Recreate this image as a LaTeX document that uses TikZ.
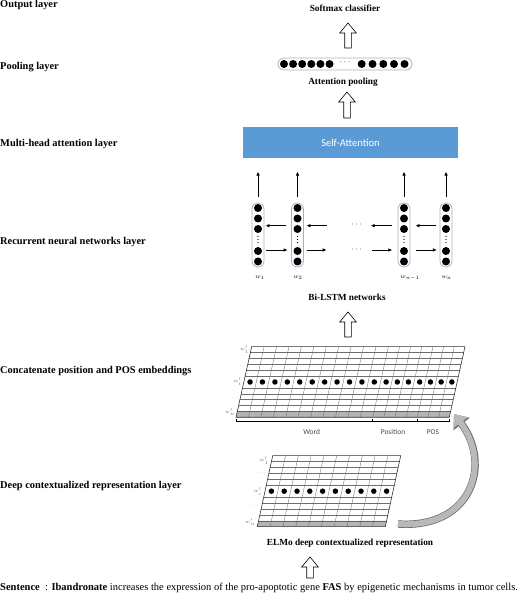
\documentclass[tikz,border=0pt]{standalone}
\usepackage{fontspec}
\setmainfont{Liberation Serif}
\newfontfamily\calfont{Carlito}
\usetikzlibrary{calc,arrows.meta,positioning}

\definecolor{attblue}{HTML}{5B9BD5}
\definecolor{capline}{HTML}{9FB3C8}
\definecolor{gridline}{HTML}{6E6E6E}
\definecolor{bandgray}{HTML}{B4B4B4}

\tikzset{
  layer/.style={anchor=west, inner sep=0pt, font=\fontsize{10.4}{12}\selectfont\bfseries},
  caption/.style={inner sep=0pt, font=\fontsize{9.3}{11}\selectfont\bfseries},
  ball/.style={circle, fill=black, inner sep=0pt, minimum size=#1},
  ball/.default=8pt,
  capsule/.style={draw=capline, line width=0.8pt, rounded corners=6pt, minimum width=12pt, minimum height=64pt, inner sep=0pt},
  holarrow/.style={draw=black, fill=white, line width=0.6pt},
  lstm/.style={line width=0.8pt, -{Latex[length=4pt,width=3.6pt]}},
  wlabel/.style={inner sep=0pt, font=\fontsize{6}{7}\selectfont},
  rowlabel/.style={anchor=east, inner sep=0pt, text=gridline, font=\fontsize{4.5}{5}\selectfont},
  seglabel/.style={inner sep=0pt, text=black!70, font=\calfont\fontsize{7.5}{8}\selectfont},
  gridrule/.style={gridline, line width=0.35pt},
}

% hollow up arrow: #1 foot, #2 tip
\newcommand\holarrow[2]{%
  \draw[holarrow] ($(#1)+(-3.3,0)$) -- ($(#2)+(-3.3,-10)$) -- ($(#2)+(-8.3,-10)$) -- (#2)
    -- ($(#2)+(8.3,-10)$) -- ($(#2)+(3.3,-10)$) -- ($(#1)+(3.3,0)$) -- cycle;}

\begin{document}
\begin{tikzpicture}[x=1pt,y=1pt]
\useasboundingbox (0,0) rectangle (520,599);

% layer names
\node[layer] (l-out) at (0,593.5) {Output layer};
\node[layer] (l-pool) at (0,532) {Pooling layer};
\node[layer] (l-att) at (0,455) {Multi-head attention layer};
\node[layer] (l-rnn) at (0,357) {Recurrent neural networks layer};
\node[layer] (l-cat) at (0,228) {Concatenate position and POS embeddings};
\node[layer] (l-elmo) at (0,113) {Deep contextualized representation layer};

% output, pooling, attention
\node[caption] (soft) at (345,591) {Softmax classifier};
\coordinate (up1a) at (348,551);
\coordinate (up1b) at (348,576);
\holarrow{up1a}{up1b}

\node[draw=capline, line width=0.8pt, rounded corners=6pt, minimum width=134pt, minimum height=12pt] (pool) at (345,535) {};
\foreach \x in {284,293.1,302.2,311.3,320.4,329.5,361.7,372.5,383.3,394,404.5}
  \node[ball] at (\x,535) {};
\node[inner sep=0pt, font=\fontsize{9}{9}\selectfont] at (345,536.5) {$\cdots$};
\node[caption] (attp) at (343,517) {Attention pooling};
\coordinate (up2a) at (347,481);
\coordinate (up2b) at (347,507);
\holarrow{up2a}{up2b}

\node[fill=attblue, minimum width=215pt, minimum height=31pt, inner sep=0pt, text=white,
  font=\calfont\fontsize{10.5}{12}\selectfont] (satt) at (350.5,456.5) {Self-Attention};

% Bi-LSTM columns
\foreach \n/\x in {1/258,2/297.5,3/404,4/446} {
  \node[capsule] (c\n) at (\x,364) {};
  \foreach \y in {391,380.5,370,348,337.5} \node[ball] at (\x,\y) {};
  \foreach \y in {356.5,359.5,362.5} \fill (\x,\y) circle (0.6);
  \draw[lstm] ($(c\n.north)+(0,6)$) coordinate (o\n) -- ++(0,25);
}
\draw[lstm] ([xshift=-5pt,yshift=9.3pt]c2.west) -- ([xshift=1pt,yshift=9.3pt]c1.east);
\draw[lstm] ([xshift=2pt,yshift=-15pt]c1.east) -- ([xshift=-3.5pt,yshift=-15pt]c2.west);
\coordinate (r2u) at (326.7,373.3);
\coordinate (r2d) at (326.7,349);
\draw[lstm] (r2u) -- ([xshift=2.5pt,yshift=9.3pt]c2.east);
\draw[lstm] ([xshift=3pt,yshift=-15pt]c2.east) -- (r2d);
\node[inner sep=0pt, font=\fontsize{8}{8}\selectfont] at (356.7,374) {$\cdots$};
\node[inner sep=0pt, font=\fontsize{8}{8}\selectfont] at (356.7,349.7) {$\cdots$};
\coordinate (l3u) at (370.7,373.3);
\coordinate (l3d) at (371.7,349);
\draw[lstm] ([xshift=-6pt,yshift=9.3pt]c3.west) -- (l3u);
\draw[lstm] (l3d) -- ([xshift=-5.3pt,yshift=-15pt]c3.west);
\draw[lstm] ([xshift=-3.3pt,yshift=9.3pt]c4.west) -- ([xshift=5pt,yshift=9.3pt]c3.east);
\draw[lstm] ([xshift=6pt,yshift=-15pt]c3.east) -- ([xshift=-2.7pt,yshift=-15pt]c4.west);

\node[wlabel] (w1) at (260,321) {$w_1$};
\node[wlabel] (w2) at (298,321) {$w_2$};
\node[wlabel] (wn1) at (410,321) {$w_{n-1}$};
\node[wlabel] (wn) at (446.7,321) {$w_n$};
\node[caption] (bil) at (347,302) {Bi-LSTM networks};
\coordinate (up3a) at (348,262);
\coordinate (up3b) at (348,287);
\holarrow{up3a}{up3b}

% concatenated embeddings
\begin{scope}[shift={(236,181.7)}, xslant=0.222]
  \fill[bandgray] (0,0) rectangle (213.3,5.89);
  \foreach \k in {2,...,11} {\ifnum\k=6\else\draw[gridrule] (0,\k*5.89) -- (213.3,\k*5.89);\fi}
  \foreach \u in {12.43,24.85,37.3,49.7,62.1,74.6,87,99.4,111.9,124.3,136.7,147.9,159,170.2,181.3,192,202.6}
    \draw[gridrule] (\u,0) -- (\u,70.7);
  \draw[attblue!70!black, line width=0.45pt] (0,5.89) -- (213.3,5.89);
  \draw[line width=0.6pt, black!80] (0,0) rectangle (213.3,70.7);
  \foreach \u in {6.2,18.6,31.1,43.5,55.9,68.4,80.8,93.2,105.7,118.1,130.5,142.3,153.5,164.6,175.8,186.6,197.3,208}
    \node[ball=5.5pt] at (\u,35.3) {};
  \node[rowlabel] at (-2,68) {$w'_1$};
  \node[rowlabel] at (-2,51.3) {$\cdots$};
  \node[rowlabel] at (-2,35.3) {$w'_i$};
  \node[rowlabel] at (-2,19.3) {$\cdots$};
  \node[rowlabel] at (-2,5) {$w'_n$};
  \coordinate (cat-br) at (213.3,0);
\end{scope}
\draw[line width=0.6pt] (236,180) -- (236,177.3) -- (449.3,177.3) -- (449.3,180);
\draw[line width=0.6pt] (372.7,177.3) -- (372.7,180.3);
\draw[line width=0.6pt] (417.3,177.3) -- (417.3,180.3);
\node[seglabel] (sw) at (311.7,167.3) {Word};
\node[seglabel] (sp) at (393,167.3) {Position};
\node[seglabel] (spos) at (433,167.3) {POS};

% ELMo representation
\begin{scope}[shift={(257.3,72.3)}, xslant=0.217]
  \fill[bandgray] (0,0) rectangle (128,5.92);
  \foreach \k in {2,...,11} {\ifnum\k=6\else\draw[gridrule] (0,\k*5.92) -- (128,\k*5.92);\fi}
  \foreach \u in {12.8,25.6,...,116} \draw[gridrule] (\u,0) -- (\u,71);
  \draw[attblue!70!black, line width=0.45pt] (0,5.92) -- (128,5.92);
  \draw[line width=0.6pt, black!80] (0,0) rectangle (128,71);
  \foreach \u in {6.4,19.2,...,122} \node[ball=5.5pt] at (\u,35.5) {};
  \node[rowlabel] at (-3,66) {$w'_1$};
  \node[rowlabel] at (-3,53.7) {$\cdots$};
  \node[rowlabel] at (-3,35.5) {$w'_i$};
  \node[rowlabel] at (-3,20) {$\cdots$};
  \node[rowlabel] at (-3,5) {$w'_n$};
  \coordinate (elmo-br) at (128,0);
\end{scope}
\node[caption] (elmo) at (350,56) {ELMo deep contextualized representation};
\coordinate (up4a) at (310,21);
\coordinate (up4b) at (310,42);
\holarrow{up4a}{up4b}

\coordinate (e-tail) at ($(elmo-br)+(12.7,2.7)$);
\coordinate (cat-tip) at ($(cat-br)+(4.7,3.3)$);
\draw[gray!55, line width=6pt, -{Triangle[length=11pt,width=17pt]},
  preaction={draw=black!60, line width=7.4pt, -{Triangle[length=12.5pt,width=19.5pt]}}]
  (e-tail) .. controls (472,70) and (492,135) .. (cat-tip);

% input sentence
\node[anchor=west, inner sep=0pt, font=\fontsize{10.5}{12}\selectfont] (sent) at (0,11)
  {\textbf{Sentence}\ \ : \textbf{Ibandronate} increases the expression of the pro-apoptotic gene \textbf{FAS} by epigenetic mechanisms in tumor cells.};
\end{tikzpicture}
\end{document}
